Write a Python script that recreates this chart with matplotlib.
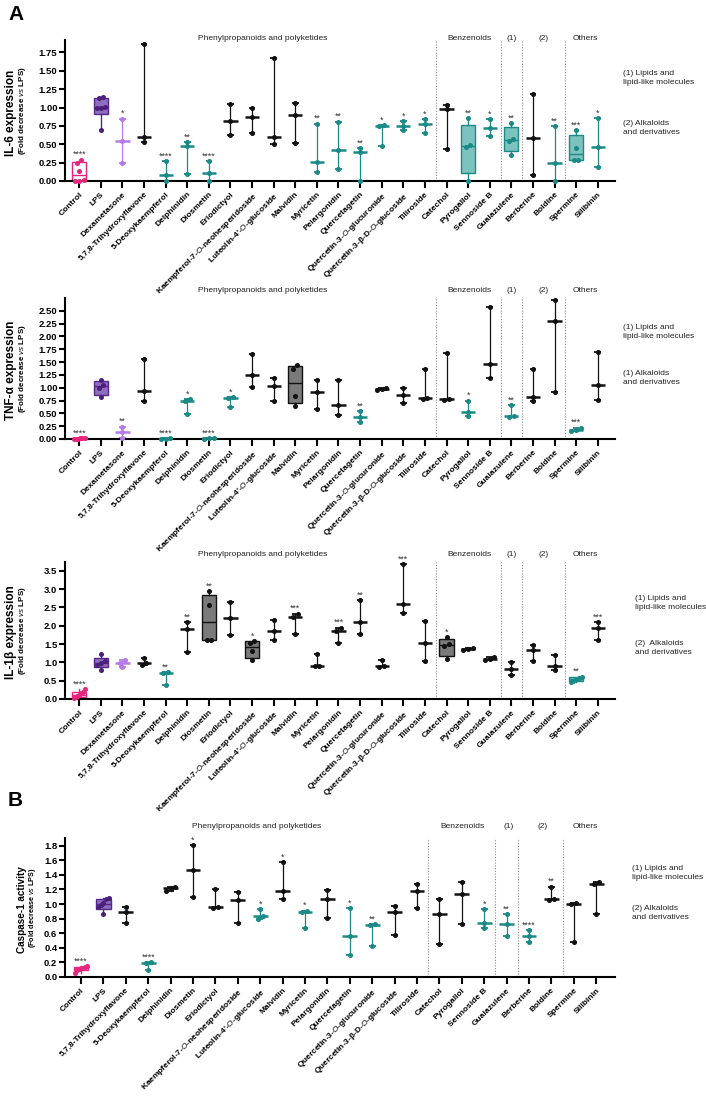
import numpy as np
import matplotlib
matplotlib.use('Agg')
import matplotlib.pyplot as plt
from matplotlib import transforms

plt.rcParams['font.family'] = ['Liberation Sans', 'DejaVu Sans']
plt.rcParams['mathtext.fontset'] = 'custom'
plt.rcParams['mathtext.it'] = 'Liberation Sans:italic'
plt.rcParams['mathtext.rm'] = 'Liberation Sans'

# ---------------- data ----------------
KAEMP = r'Kaempferol-7-$\mathit{O}$-neohesperidoside'
LUTEO = r"Luteolin-4'-$\mathit{O}$-glucoside"
Q3GLU = r'Quercetin-3-$\mathit{O}$-glucuronide'
Q3BD = r'Quercetin-3-β-D-$\mathit{O}$-glucoside'

cats_A = ['Control', 'LPS', 'Dexametasone', '5,7,8-Trihydroxyflavone', '5-Deoxykaempferol',
          'Delphinidin', 'Diosmetin', 'Eriodictyol', KAEMP, LUTEO, 'Malvidin', 'Myricetin',
          'Pelargonidin', 'Quercetagetin', Q3GLU, Q3BD, 'Tiliroside', 'Catechol', 'Pyrogallol',
          'Sennoside B', 'Guaiazulene', 'Berberine', 'Boldine', 'Spermine', 'Silibinin']
cats_B = [c for c in cats_A if c != 'Dexametasone']

il6_vals = [[0.0, 0.0, 0.02, 0.14, 0.25, 0.29], [0.70, 0.99, 1.00, 1.01, 1.13, 1.15],
            [0.25, 0.55, 0.85], [0.53, 0.60, 1.86], [0.0, 0.08, 0.27], [0.10, 0.47, 0.53],
            [0.0, 0.11, 0.27], [0.63, 0.82, 1.05], [0.66, 0.87, 1.00], [0.50, 0.60, 1.68],
            [0.52, 0.90, 1.06], [0.12, 0.26, 0.78], [0.16, 0.42, 0.81], [0.0, 0.40, 0.45],
            [0.48, 0.75, 0.76], [0.69, 0.75, 0.82], [0.65, 0.78, 0.84], [0.44, 0.98, 1.04],
            [0.0, 0.46, 0.49, 0.86], [0.61, 0.72, 0.84], [0.36, 0.54, 0.57, 0.79],
            [0.08, 0.58, 1.18], [0.0, 0.24, 0.75], [0.28, 0.29, 0.455, 0.69], [0.19, 0.46, 0.86]]
il6_kind = ['ctrl', 'lps', 'dex', 'ns', 'sig', 'sig', 'sig', 'ns', 'ns', 'ns', 'ns', 'sig', 'sig',
            'sig', 'sig', 'sig', 'sig', 'ns', 'sig', 'sig', 'sig', 'ns', 'sig', 'sig', 'sig']
il6_stars = ['****', '', '*', '', '****', '**', '****', '', '', '', '', '**', '**', '**', '*', '*',
             '*', '', '**', '*', '**', '', '**', '***', '*']

tnf_vals = [[0.0, 0.0, 0.005, 0.01, 0.015, 0.02], [0.81, 1.0, 1.05, 1.16], [0.02, 0.14, 0.24],
            [0.74, 0.93, 1.56], [0.0, 0.0, 0.01], [0.48, 0.74, 0.78], [0.0, 0.01, 0.02],
            [0.63, 0.79, 0.82], [1.01, 1.25, 1.66], [0.75, 1.03, 1.18], [0.65, 0.83, 1.36, 1.44],
            [0.59, 0.92, 1.16], [0.46, 0.66, 1.16], [0.33, 0.42, 0.54], [0.96, 0.98, 1.0],
            [0.71, 0.86, 0.99], [0.78, 0.80, 1.36], [0.76, 0.78, 1.67], [0.45, 0.53, 0.75],
            [1.18, 1.46, 2.58], [0.43, 0.45, 0.66], [0.75, 0.82, 1.37], [0.91, 2.31, 2.71],
            [0.16, 0.18, 0.22], [0.76, 1.06, 1.70]]
tnf_kind = ['ctrl', 'lps', 'dex', 'ns', 'sig', 'sig', 'sig', 'sig', 'ns', 'ns', 'ns', 'ns', 'ns',
            'sig', 'ns', 'ns', 'ns', 'ns', 'sig', 'ns', 'sig', 'ns', 'ns', 'sig', 'ns']
tnf_stars = ['****', '', '**', '', '****', '*', '****', '*', '', '', '', '', '', '**', '', '', '',
             '', '*', '', '**', '', '', '***', '']

il1b_vals = [[0.02, 0.05, 0.08, 0.12, 0.16, 0.18, 0.27], [0.79, 0.94, 0.98, 1.03, 1.23],
             [0.87, 0.97, 1.06], [0.94, 0.98, 1.12], [0.39, 0.72, 0.73], [1.27, 1.90, 2.10],
             [1.61, 1.62, 2.57, 2.94], [1.74, 2.22, 2.66], [1.07, 1.32, 1.53, 1.59],
             [1.61, 1.85, 2.15], [1.77, 2.24, 2.33], [0.90, 0.91, 1.24], [1.53, 1.86, 1.95],
             [1.77, 2.09, 2.69], [0.87, 0.90, 1.07], [2.35, 2.60, 3.69], [1.03, 1.52, 2.14],
             [1.09, 1.46, 1.51, 1.69], [1.35, 1.37, 1.38], [1.07, 1.10, 1.16], [0.66, 0.81, 1.01],
             [1.05, 1.33, 1.48], [0.79, 0.91, 1.21], [0.46, 0.50, 0.55, 0.58, 0.61],
             [1.62, 1.95, 2.09]]
il1b_kind = ['ctrl', 'lps', 'dex', 'ns', 'sig', 'ns', 'ns', 'ns', 'ns', 'ns', 'ns', 'ns', 'ns',
             'ns', 'ns', 'ns', 'ns', 'ns', 'ns', 'ns', 'ns', 'ns', 'ns', 'sig', 'ns']
il1b_stars = ['****', '', '', '', '**', '**', '**', '', '*', '', '***', '', '***', '**', '',
              '***', '', '*', '', '', '', '', '', '**', '***']

casp_vals = [[0.05, 0.09, 0.11, 0.12, 0.13, 0.14, 0.15], [0.87, 0.96, 0.99, 1.02, 1.07, 1.08],
             [0.74, 0.89, 0.96], [0.09, 0.19, 0.20], [1.18, 1.22, 1.23], [1.10, 1.46, 1.81],
             [0.95, 0.96, 1.21], [0.74, 1.06, 1.16], [0.80, 0.84, 0.93], [1.07, 1.18, 1.57],
             [0.67, 0.89, 0.91], [0.81, 1.07, 1.19], [0.30, 0.56, 0.94], [0.42, 0.71, 0.73],
             [0.57, 0.89, 0.97], [0.94, 1.18, 1.28], [0.45, 0.86, 1.07], [0.72, 1.14, 1.30],
             [0.67, 0.74, 0.93], [0.56, 0.72, 0.86], [0.48, 0.56, 0.64], [1.05, 1.07, 1.24],
             [0.48, 1.00, 1.02], [0.86, 1.28, 1.30]]
casp_kind = ['ctrl', 'lps', 'ns', 'sig', 'ns', 'ns', 'ns', 'ns', 'sig', 'ns', 'sig', 'ns', 'sig',
             'sig', 'ns', 'ns', 'ns', 'ns', 'sig', 'sig', 'sig', 'ns', 'ns', 'ns']
casp_stars = ['****', '', '', '****', '', '*', '', '', '*', '*', '*', '', '*', '**', '', '', '',
              '', '*', '**', '****', '**', '', '']

group_names = ['Phenylpropanoids and polyketides', 'Benzenoids', '(1)', '(2)', 'Others']

# ---------------- style ----------------
PAL = {
    'ctrl': dict(pt='#E8257D', line='#E8257D', fill='white'),
    'lps': dict(pt='#4B1F7A', line='#55288A', fill='#8E6CC0'),
    'dex': dict(pt='#B57AE8', line='#B57AE8', fill='#D9BDF5'),
    'ns': dict(pt='#111111', line='#111111', fill='#7A7A7A'),
    'sig': dict(pt='#1A8A86', line='#1A8A86', fill='#7CC2BF'),
}

W, H = 706, 1096
fig = plt.figure(figsize=(W / 100, H / 100), dpi=100)


def fx(x):
    return x / W


def fy(y):
    return 1 - y / H


def offsets(v, thr, step, maxspread):
    order = np.argsort(v, kind='stable')
    off = np.zeros(len(v))
    groups, cur = [], [order[0]]
    for a, b in zip(order[:-1], order[1:]):
        if v[b] - v[a] < thr:
            cur.append(b)
        else:
            groups.append(cur)
            cur = [b]
    groups.append(cur)
    for g in groups:
        m = len(g)
        st = step if m < 2 else min(step, maxspread / (m - 1))
        for j, idx in enumerate(g):
            off[idx] = (j - (m - 1) / 2) * st
    return off


def draw_panel(top, bottom, cats, vals, kinds, stars, ylim, yticks, yfmt, xlim, seps,
               gpos, gy, ylab, ylab_x, ylab_fs, sub_x, sub_fs, legend):
    ax = fig.add_axes([fx(65), fy(bottom), fx(615 - 65), (bottom - top) / H])
    ymax = ylim[1]
    for i, (v, k, s) in enumerate(zip(vals, kinds, stars)):
        v = np.asarray(v, float)
        c = PAL[k]
        if len(v) >= 4:
            st = dict(med=np.median(v), q1=np.percentile(v, 25, method='weibull'),
                      q3=np.percentile(v, 75, method='weibull'), whislo=v.min(), whishi=v.max(),
                      fliers=[])
            ax.bxp([st], positions=[i], widths=0.66, patch_artist=True, showfliers=False,
                   showcaps=False,
                   boxprops=dict(facecolor=c['fill'], edgecolor=c['line'], lw=1.0),
                   medianprops=dict(color=c['line'], lw=1.0),
                   whiskerprops=dict(color=c['line'], lw=1.0), manage_ticks=False)
            off = offsets(v, 0.03 * ymax, 0.2, 0.5)
        else:
            med = np.median(v)
            ax.plot([i, i], [v.min(), v.max()], color=c['line'], lw=0.9, zorder=2)
            for yv in (v.min(), v.max()):
                ax.plot([i - 0.15, i + 0.15], [yv, yv], color=c['line'], lw=1.3, zorder=2,
                        solid_capstyle='butt')
            ax.plot([i - 0.33, i + 0.33], [med, med], color=c['line'], lw=1.8, zorder=2,
                    solid_capstyle='butt')
            off = offsets(v, 0.025 * ymax, 0.22, 0.45)
        ax.plot(i + off, v, 'o', ms=2.6, color=c['pt'], mec=c['pt'], zorder=4, clip_on=False)
        if s:
            ax.annotate(s, (i, v.max()), xytext=(0, 1.8), textcoords='offset points',
                        ha='center', va='baseline', fontsize=6.3, color='#333333')
    ax.set_xlim(*xlim)
    ax.set_ylim(*ylim)
    ax.spines['top'].set_visible(False)
    ax.spines['right'].set_visible(False)
    for sp in ('left', 'bottom'):
        ax.spines[sp].set_linewidth(1.5)
    ax.set_yticks(yticks, [yfmt % t for t in yticks], fontsize=6.8, fontweight='bold')
    ax.set_xticks(range(len(cats)), cats, rotation=45, ha='right', va='top',
                  rotation_mode='anchor', fontsize=6, fontweight='bold')
    ax.tick_params(axis='both', width=1.5, length=4, pad=1.5)
    ax.tick_params(axis='x', length=5, pad=2)
    for s_ in seps:
        ax.axvline(s_, color='#888888', lw=0.8, ls=(0, (1, 1.5)), zorder=1)
    tr = transforms.blended_transform_factory(ax.transData, ax.transAxes)
    gyax = (bottom - gy) / (bottom - top)
    for name, xp in zip(group_names, gpos):
        ax.text(xp, gyax, name, transform=tr, ha='center', va='center', fontsize=6,
                color='#222222')
    # y labels
    yc = (top + bottom) / 2
    fig.text(fx(ylab_x), fy(yc + 2), ylab, rotation=90, ha='center', va='center',
             fontsize=ylab_fs, fontweight='bold')
    fig.text(fx(sub_x), fy(yc), r'(Fold decrease $\mathit{vs}$ LPS)', rotation=90,
             ha='center', va='center', fontsize=sub_fs, fontweight='bold')
    # right legend
    lx, l1, l2, t1, t2 = legend
    fig.text(fx(lx), fy(l1), t1, ha='left', va='center', fontsize=6, linespacing=1.35,
             color='#222222')
    fig.text(fx(lx), fy(l2), t2, ha='left', va='center', fontsize=6, linespacing=1.35,
             color='#222222')
    return ax


seps_A = [16.5, 19.5, 20.5, 22.5]
gpos_A = [8.5, 18.05, 20.0, 21.5, 23.4]
xlim_A = (-0.66, 24.8)

draw_panel(40, 181, cats_A, il6_vals, il6_kind, il6_stars, (0, 1.92),
           np.arange(0, 1.76, 0.25), '%.2f', xlim_A, seps_A, gpos_A, 39,
           'IL-6 expression', 11, 8.5, 23, 5.8,
           (623, 78, 128, '(1) Lipids and\nlipid-like molecules', '(2) Alkaloids\nand derivatives'))

draw_panel(298, 439, cats_A, tnf_vals, tnf_kind, tnf_stars, (0, 2.75),
           np.arange(0, 2.51, 0.25), '%.2f', xlim_A, seps_A, gpos_A, 290,
           'TNF-α expression', 11, 8.5, 23, 5.8,
           (623, 332, 378, '(1) Lipids and\nlipid-like molecules', '(1) Alkaloids\nand derivatives'))

draw_panel(562, 699, cats_A, il1b_vals, il1b_kind, il1b_stars, (0, 3.74),
           np.arange(0, 3.51, 0.5), '%.1f', xlim_A, seps_A, gpos_A, 555,
           'IL-1β expression', 11.5, 8.5, 23, 5.8,
           (635, 603, 648, '(1) Lipids and\nlipid-like molecules', '(2)  Alkaloids\nand derivatives'))

draw_panel(838, 977, cats_B, casp_vals, casp_kind, casp_stars, (0, 1.905),
           np.arange(0, 1.81, 0.2), '%.1f', (-0.71, 23.84), [15.5, 18.5, 19.5, 21.5],
           [7.86, 17.05, 19.1, 20.6, 22.5], 826,
           'Caspase-1 activity', 22, 7.2, 32, 5.2,
           (632, 873, 913, '(1) Lipids and\nlipid-like molecules', '(2) Alkaloids\nand derivatives'))

fig.text(fx(8), fy(14), 'A', fontsize=15, fontweight='bold', ha='left', va='center')
fig.text(fx(8), fy(800), 'B', fontsize=15, fontweight='bold', ha='left', va='center')

fig.savefig('out.png', dpi=100)
